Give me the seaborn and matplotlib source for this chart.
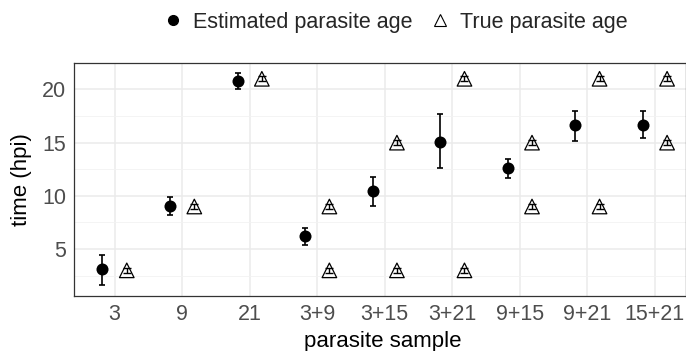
import numpy as np
import pandas as pd
import matplotlib
matplotlib.use("Agg")
import matplotlib.pyplot as plt
import seaborn as sns
from matplotlib.lines import Line2D

# valores
samples = ["3", "9", "21", "3+9", "3+15", "3+21", "9+15", "9+21", "15+21"]
est_age = [3.1, 9.05, 20.8, 6.2, 10.5, 15.1, 12.6, 16.7, 16.7]
est_low = [1.6, 8.2, 20.0, 5.4, 9.0, 12.6, 11.7, 15.2, 15.4]
est_high = [4.4, 9.9, 21.55, 7.0, 11.8, 17.65, 13.5, 18.0, 18.0]
true_age = [[3], [9], [21], [3, 9], [3, 15], [3, 21], [9, 15], [9, 21], [15, 21]]

sns.set_theme(style="whitegrid")
plt.rcParams['font.family'] = ['Liberation Sans', 'DejaVu Sans']

df_est = pd.DataFrame({"sample": samples, "age": est_age, "lo": est_low, "hi": est_high})
df_est["pos"] = np.arange(len(samples)) - 0.18
rows = [(s, i, a) for i, (s, ages) in enumerate(zip(samples, true_age)) for a in ages]
df_true = pd.DataFrame(rows, columns=["sample", "idx", "age"])
df_true["pos"] = df_true["idx"] + 0.18

fig = plt.figure(figsize=(6.86, 3.51), dpi=100)
ax = fig.add_axes([0.108, 0.157, 0.892, 0.664])

# barras de error
ax.errorbar(df_est["pos"], df_est["age"],
            yerr=[df_est["age"] - df_est["lo"], df_est["hi"] - df_est["age"]],
            fmt="none", ecolor="black", elinewidth=1.2, capsize=2.5, capthick=1.2, zorder=3)
ax.errorbar(df_true["pos"], df_true["age"], yerr=0.22,
            fmt="none", ecolor="black", elinewidth=1.0, capsize=3, capthick=1.0, zorder=3)

sns.scatterplot(data=df_est, x="pos", y="age", ax=ax, color="black", s=75,
                marker="o", edgecolor="black", linewidth=0, zorder=4, legend=False)
ax.scatter(df_true["pos"], df_true["age"], marker="^", s=110, facecolors="none",
           edgecolors="black", linewidths=0.9, zorder=4)

ax.set_xlim(-0.6, 8.46)
ax.set_ylim(0.6, 22.5)
ax.set_xticks(np.arange(len(samples)))
ax.set_xticklabels(samples)
ax.set_yticks([5, 10, 15, 20])
ax.set_yticks([2.5, 7.5, 12.5, 17.5], minor=True)
ax.grid(which="major", color="#EBEBEB", linewidth=1.1)
ax.grid(which="minor", axis="y", color="#F2F2F2", linewidth=0.6)
ax.set_axisbelow(True)
for sp in ax.spines.values():
    sp.set_color("#333333")
    sp.set_linewidth(0.9)
ax.tick_params(axis="both", which="major", length=3.5, width=0.9, color="#333333",
               labelsize=15.5, labelcolor="#4D4D4D", pad=2)
ax.tick_params(which="minor", length=0)
ax.set_xlabel("parasite sample", fontsize=16, color="black")
ax.set_ylabel("time (hpi)", fontsize=16, color="black")
ax.xaxis.set_label_coords(0.505, -0.152)
ax.yaxis.set_label_coords(-0.068, 0.5)

handles = [
    Line2D([], [], marker="o", color="black", linestyle="none", markersize=7),
    Line2D([], [], marker="^", color="black", markerfacecolor="none", linestyle="none",
           markersize=9, markeredgewidth=0.8),
]
fig.legend(handles, ["Estimated parasite age", "True parasite age"], loc="center",
           bbox_to_anchor=(0.572, 0.937), ncol=2, frameon=False, fontsize=15.5,
           handletextpad=0.2, columnspacing=0.5, handlelength=1.5)

fig.savefig("out.png", dpi=100)
